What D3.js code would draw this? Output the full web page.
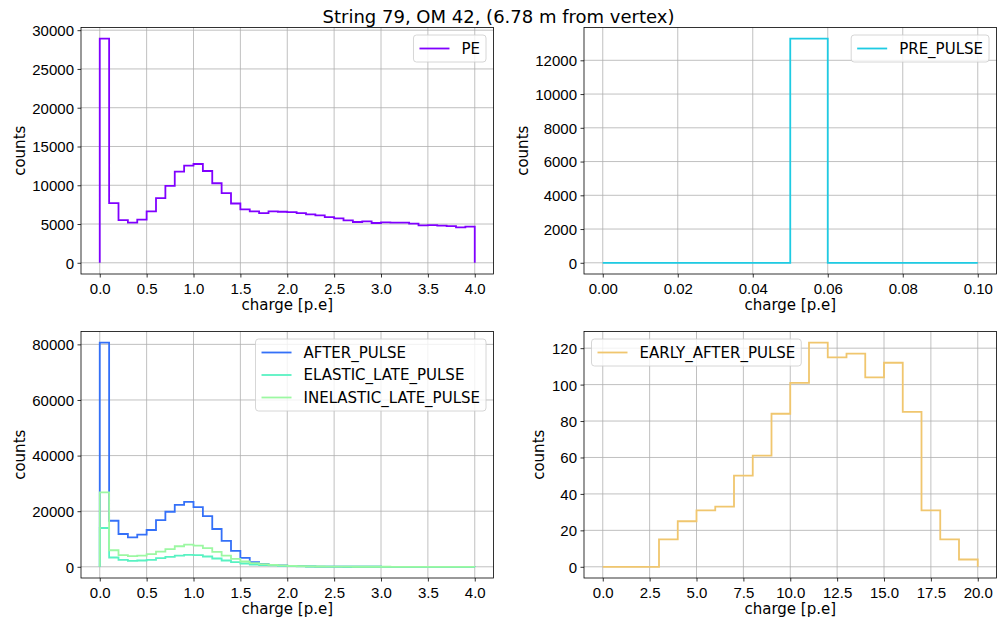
<!DOCTYPE html>
<html>
<head>
<meta charset="utf-8">
<script src="https://cdn.jsdelivr.net/npm/d3@7"></script>
<style>
  body { margin: 0; background: #fff; }
  svg { font-family: "DejaVu Sans", sans-serif; }
  .grid line { stroke: #b0b0b0; stroke-width: 0.8; }
  .tick-label { font-size: 15px; fill: #000; }
</style>
</head>
<body>
<div class="chart"></div>
<script>
// histogram counts, one value per bin
var peEdges = [0, 4, 0.1];
var peCounts = [28900, 7690, 5510, 5170, 5560, 6620, 8330, 9915, 11750, 12520,
  12740, 11840, 10260, 8975, 7650, 6880, 6620, 6410, 6620, 6580,
  6540, 6410, 6240, 6110, 5900, 5730, 5470, 5260, 5340, 5130,
  5210, 5170, 5170, 5040, 4830, 4870, 4790, 4740, 4570, 4660];

var preEdges = [0, 0.1, 0.01];
var preCounts = [0, 0, 0, 0, 0, 13280, 0, 0, 0, 0];

var lateEdges = [0, 4, 0.1];
var afterCounts = [80600, 16570, 11800, 10600, 11560, 13230, 16810, 19790, 22290, 23360,
  21460, 18240, 13590, 9300, 5720, 3220, 1670, 1070, 720, 480,
  360, 240, 120, 60, 40, 30, 20, 15, 10, 8,
  6, 5, 4, 3, 2, 2, 1, 1, 1, 1];
var elasticCounts = [13950, 3340, 2500, 2150, 2260, 2500, 3100, 3580, 4050, 4290,
  4170, 3700, 2980, 2260, 1670, 1190, 830, 600, 480, 360,
  240, 150, 100, 60, 40, 30, 20, 15, 10, 8,
  6, 5, 4, 3, 2, 2, 1, 1, 1, 1];
var inelasticCounts = [26800, 5960, 4170, 3810, 4050, 4530, 5480, 6320, 7390, 7990,
  7630, 6680, 5360, 4050, 2860, 1910, 1310, 950, 720, 480,
  360, 240, 150, 100, 60, 40, 30, 20, 15, 10,
  8, 6, 5, 4, 3, 2, 2, 1, 1, 1];

var earlyEdges = [0, 20, 1];
var earlyCounts = [0, 0, 0, 15, 25, 31, 33, 50, 61, 84,
  101, 123, 115, 117, 104, 112, 85, 31, 15, 4];

// tick values
var xTicksCharge = [0, 0.5, 1, 1.5, 2, 2.5, 3, 3.5, 4];
var xTicksPre = [0, 0.02, 0.04, 0.06, 0.08, 0.1];
var xTicksEarly = [0, 2.5, 5, 7.5, 10, 12.5, 15, 17.5, 20];
var yTicksPe = [0, 5000, 10000, 15000, 20000, 25000, 30000];
var yTicksPre = [0, 2000, 4000, 6000, 8000, 10000, 12000];
var yTicksLate = [0, 20000, 40000, 60000, 80000];
var yTicksEarly = [0, 20, 40, 60, 80, 100, 120];

var title = "String 79, OM 42, (6.78 m from vertex)";

var width = 997, height = 621;
var fontSize = 15;

var svg = d3.select(".chart")
  .append("svg")
  .attr("width", width)
  .attr("height", height);

svg.append("text")
  .attr("x", 498.5)
  .attr("y", 23)
  .attr("text-anchor", "middle")
  .attr("font-size", "18px")
  .text(title);

// turns edges + counts into the step outline matplotlib draws
function stepPoints(edges, counts) {
  var pts = [[edges[0], 0]];
  counts.forEach(function (c, i) {
    pts.push([edges[0] + i * edges[2], c]);
  });
  pts.push([edges[1], 0]);
  return pts;
}

function drawPanel(p) {
  var g = svg.append("g").attr("transform", "translate(" + p.left + "," + p.top + ")");

  var xPad = (p.edges[1] - p.edges[0]) * 0.05;
  var xScale = d3.scaleLinear()
    .domain([p.edges[0] - xPad, p.edges[1] + xPad])
    .range([0, p.w]);

  var yMax = d3.max(p.series, function (s) { return d3.max(s.counts); });
  var yScale = d3.scaleLinear()
    .domain([-yMax * 0.05, yMax * 1.05])
    .range([p.h, 0]);

  // gridlines
  g.append("g")
    .attr("class", "grid")
    .selectAll("line.gx")
    .data(p.xTicks)
    .enter()
    .append("line")
    .attr("x1", function (d) { return xScale(d); })
    .attr("x2", function (d) { return xScale(d); })
    .attr("y1", 0)
    .attr("y2", p.h);
  g.append("g")
    .attr("class", "grid")
    .selectAll("line.gy")
    .data(p.yTicks)
    .enter()
    .append("line")
    .attr("y1", function (d) { return yScale(d); })
    .attr("y2", function (d) { return yScale(d); })
    .attr("x1", 0)
    .attr("x2", p.w);

  var lineGen = d3.line()
    .x(function (d) { return xScale(d[0]); })
    .y(function (d) { return yScale(d[1]); })
    .curve(d3.curveStepAfter);

  p.series.forEach(function (s) {
    g.append("path")
      .attr("d", lineGen(stepPoints(p.edges, s.counts)))
      .attr("fill", "none")
      .attr("stroke", s.color)
      .attr("stroke-width", 1.8);
  });

  // axes
  var xAxis = d3.axisBottom(xScale)
    .tickValues(p.xTicks)
    .tickFormat(d3.format(p.xFormat))
    .tickSize(3.5)
    .tickPadding(3.5)
    .tickSizeOuter(0);
  var yAxis = d3.axisLeft(yScale)
    .tickValues(p.yTicks)
    .tickFormat(d3.format("d"))
    .tickSize(3.5)
    .tickPadding(3.5)
    .tickSizeOuter(0);

  var gx = g.append("g")
    .attr("transform", "translate(0," + p.h + ")")
    .call(xAxis);
  var gy = g.append("g").call(yAxis);

  [gx, gy].forEach(function (a) {
    a.select(".domain").remove();
    a.selectAll(".tick line").attr("stroke", "#000").attr("stroke-width", 0.8);
    a.selectAll(".tick text")
      .attr("class", "tick-label")
      .attr("font-family", null)
      .attr("font-size", null);
  });
  gx.selectAll(".tick text").attr("y", 19.5).attr("dy", null);
  gy.selectAll(".tick text").attr("dy", "0.36em");

  // frame
  g.append("rect")
    .attr("width", p.w)
    .attr("height", p.h)
    .attr("fill", "none")
    .attr("stroke", "#000")
    .attr("stroke-width", 0.8);

  var maxW = 0;
  gy.selectAll(".tick text").each(function () {
    maxW = Math.max(maxW, this.getComputedTextLength());
  });

  g.append("text")
    .attr("x", p.w / 2)
    .attr("y", p.h + 36)
    .attr("text-anchor", "middle")
    .attr("font-size", fontSize + "px")
    .text("charge [p.e]");

  g.append("text")
    .attr("transform", "translate(" + (-7 - maxW - 4 - 3.5) + "," + (p.h / 2) + ") rotate(-90)")
    .attr("text-anchor", "middle")
    .attr("font-size", fontSize + "px")
    .text("counts");

  // legend
  var leg = g.append("g");
  var box = leg.append("rect")
    .attr("fill", "#fff")
    .attr("fill-opacity", 0.8)
    .attr("stroke", "#cccccc")
    .attr("stroke-width", 0.8)
    .attr("rx", 3);
  var textW = 0;
  p.series.forEach(function (s, i) {
    var cy = 6 + 7.5 + i * 22.5;
    leg.append("line")
      .attr("x1", 6).attr("x2", 36)
      .attr("y1", cy).attr("y2", cy)
      .attr("stroke", s.color)
      .attr("stroke-width", 1.8);
    var t = leg.append("text")
      .attr("x", 48)
      .attr("y", cy)
      .attr("dy", "0.36em")
      .attr("font-size", fontSize + "px")
      .text(s.name);
    textW = Math.max(textW, t.node().getComputedTextLength());
  });
  var lw = 48 + textW + 6;
  var lh = 12 + 15 * p.series.length + 7.5 * (p.series.length - 1);
  box.attr("width", lw).attr("height", lh);
  var lx = p.legend === "right" ? p.w - 7.5 - lw : 7.5;
  leg.attr("transform", "translate(" + lx + ",7.5)");
}

var colLeft = 81, colRight = 584, panelW = 412.5;
var rowTop = 27.5, rowBottom = 331.5, panelH = 246.5;

drawPanel({
  left: colLeft, top: rowTop, w: panelW, h: panelH,
  edges: peEdges, xTicks: xTicksCharge, xFormat: ".1f", yTicks: yTicksPe,
  legend: "right",
  series: [{ name: "PE", counts: peCounts, color: "#8000ff" }]
});

drawPanel({
  left: colRight, top: rowTop, w: panelW, h: panelH,
  edges: preEdges, xTicks: xTicksPre, xFormat: ".2f", yTicks: yTicksPre,
  legend: "right",
  series: [{ name: "PRE_PULSE", counts: preCounts, color: "#1ecbe3" }]
});

drawPanel({
  left: colLeft, top: rowBottom, w: panelW, h: panelH,
  edges: lateEdges, xTicks: xTicksCharge, xFormat: ".1f", yTicks: yTicksLate,
  legend: "right",
  series: [
    { name: "AFTER_PULSE", counts: afterCounts, color: "#3470f8" },
    { name: "ELASTIC_LATE_PULSE", counts: elasticCounts, color: "#58f2c2" },
    { name: "INELASTIC_LATE_PULSE", counts: inelasticCounts, color: "#9cf8a2" }
  ]
});

drawPanel({
  left: colRight, top: rowBottom, w: panelW, h: panelH,
  edges: earlyEdges, xTicks: xTicksEarly, xFormat: ".1f", yTicks: yTicksEarly,
  legend: "left",
  series: [{ name: "EARLY_AFTER_PULSE", counts: earlyCounts, color: "#f0c66e" }]
});
</script>
</body>
</html>
